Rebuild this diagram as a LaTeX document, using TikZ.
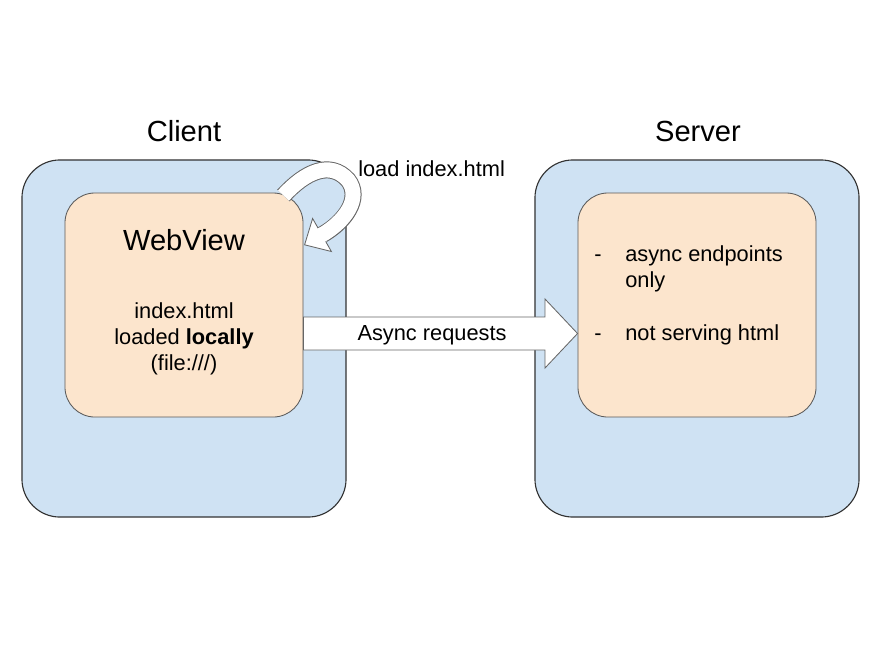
\documentclass[tikz,border=0pt]{standalone}
\usepackage{fontspec}
\setmainfont{Liberation Sans}
\usepackage{xcolor}
\usepackage{tikz}
\usetikzlibrary{positioning, calc}
\definecolor{hostblue}{RGB}{207,226,243}
\definecolor{viewpeach}{RGB}{252,229,205}

\begin{document}
\begin{tikzpicture}[
    x=0.025cm, y=-0.025cm,
    hostbox/.style={draw=black!80, line width=0.8pt, fill=hostblue, rounded corners=0.95cm, minimum width=8.1cm, minimum height=8.925cm},
    viewbox/.style={draw=black!65, line width=0.6pt, fill=viewpeach, rounded corners=0.75cm, minimum width=5.95cm, minimum height=5.6cm},
    heading/.style={font=\fontsize{20.7}{24}\selectfont, inner sep=0pt, anchor=base},
    body/.style={font=\fontsize{15.5}{18.4}\selectfont, inner sep=0pt, anchor=base},
    blockarrow/.style={draw=black!60, fill=white, line width=0.6pt}
]
    \useasboundingbox (0,0) rectangle (880,660);

    % Hosts
    \node[hostbox] (client) at (184,338.5) {};
    \node[hostbox] (server) at (697,338.5) {};
    \node[heading] (clientlabel) at (184,141.5) {Client};
    \node[heading] (serverlabel) at (698,141.5) {Server};

    % Inner boxes
    \node[viewbox] (webview) at (184,305) {};
    \node[viewbox] (endpoints) at (697,305) {};

    % WebView text
    \node[heading] (wvtitle) at (184,250) {WebView};
    \node[body] (wvfile) at (184,318) {index.html};
    \node[body] (wvloaded) at (184,344) {loaded \textbf{locally}};
    \node[body] (wvurl) at (184,370) {(file:///)};

    % Server text
    \node[body] (dashone) at (598,261.5) {-};
    \node[body, anchor=base west] (asynconly) at (625,261.5) {async endpoints};
    \node[body, anchor=base west] (only) at (625,287.5) {only};
    \node[body] (dashtwo) at (598,340) {-};
    \node[body, anchor=base west] (nohtml) at (625,340) {not serving html};

    % Async requests arrow
    \coordinate (reqtop) at (webview.east |- 0,317);
    \coordinate (reqbot) at (webview.east |- 0,350);
    \coordinate (reqtip) at (endpoints.west |- 0,333.5);
    \draw[blockarrow] (reqtop) -- (545,317) -- (545,299) -- (reqtip)
        -- (545,368) -- (545,350) -- (reqbot) -- cycle;
    \node[body] (reqlabel) at (432,340.5) {Async requests};

    % Self loop: load index.html
    \coordinate (loopstart) at ($(webview.north east)+(-20,3)$);
    \coordinate (loopend) at ($(webview.north east)+(19,42)$);
    \draw[line width=12.1pt, black!60] (loopstart) .. controls (305,172) and (330,160) .. (348,180)
        .. controls (362,198) and (345,222) .. (loopend);
    \filldraw[blockarrow] (312.6,218.5) -- (304.6,244.8) -- (331.4,251.5) -- cycle;
    \draw[line width=10.7pt, white, shorten >=-1.5pt] (loopstart) .. controls (305,172) and (330,160) .. (348,180)
        .. controls (362,198) and (345,222) .. (loopend);
    \node[body, anchor=base west] (looplabel) at (358,176) {load index.html};
\end{tikzpicture}
\end{document}
